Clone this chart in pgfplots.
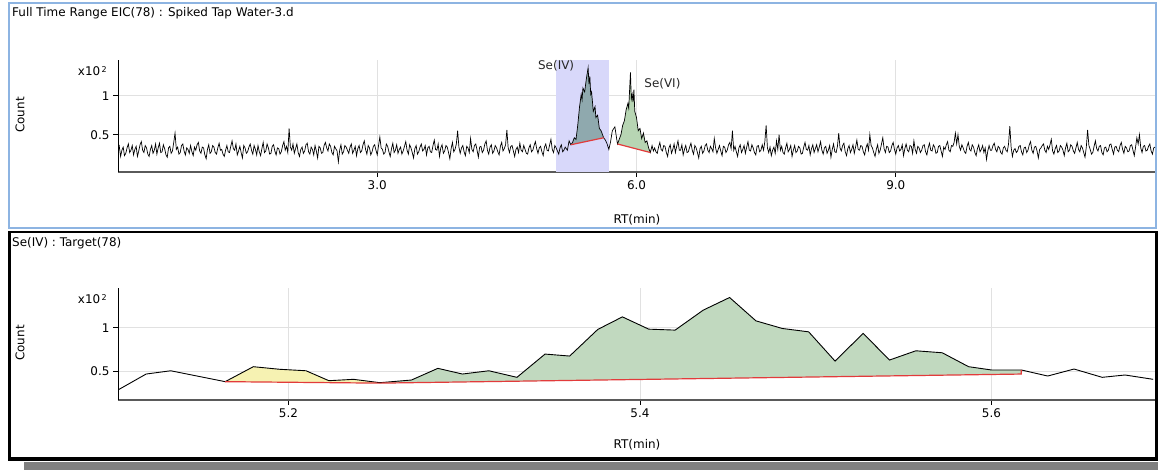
\documentclass[border=0pt]{standalone}
\usepackage{fontspec}
\setmainfont{DejaVu Sans}
\usepackage{pgfplots}
\pgfplotsset{compat=1.18}
\definecolor{panelblue}{HTML}{8DB4E2}
\definecolor{axgray}{HTML}{5A5A5A}
\definecolor{gridgray}{HTML}{E1E1E1}
\definecolor{hlblue}{HTML}{D8D8FA}
\definecolor{peakdark}{HTML}{8FA9AE}
\definecolor{peakgreen}{HTML}{B7D5B3}
\definecolor{fillgreen}{HTML}{C1D9BF}
\definecolor{fillyellow}{HTML}{F6F2B2}
\definecolor{basered}{HTML}{E23B3B}
\definecolor{shadowgray}{HTML}{808080}
\newcommand{\lblfont}{\fontsize{12}{14}\selectfont}
\pgfplotsset{
  chrom/.style={
    scale only axis, width=1037bp, height=112bp, anchor=south west,
    axis x line=bottom, axis y line=left,
    axis line style={-},
    x axis line style={line width=2bp, color=axgray},
    y axis line style={line width=1bp, color=black},
    tick align=outside, major tick length=5bp,
    tick style={black, line width=0.8bp},
    grid=major, major grid style={gridgray, line width=0.8bp},
    ticklabel style={font=\lblfont, text=black},
    /pgf/number format/assume math mode=true,
  }
}
\begin{document}
\begin{tikzpicture}
\begin{scope}[x=1bp,y=1bp]
\useasboundingbox (0,0) rectangle (1158,470);
% panel frames
\fill[shadowgray] (24,0) rectangle (1158,8);
\draw[panelblue, line width=1.5bp] (9,467) rectangle (1156,242);
\draw[black, line width=2.5bp] (9.5,238) rectangle (1156.5,11);
\fill[black] (8,9) rectangle (1158,13);
\node[anchor=west, font=\lblfont, inner sep=0] at (12,457) {Full Time Range EIC(78) : Spiked Tap Water-3.d};
\node[anchor=west, font=\lblfont, inner sep=0] at (12,227) {Se(IV) : Target(78)};
\node[anchor=east, font=\lblfont, inner sep=0] at (107,399) {x10\hspace{1.5bp}\raisebox{3bp}{\fontsize{8}{8}\selectfont 2}};
\node[rotate=90, font=\lblfont, inner sep=0] at (20,355) {Count};
\node[font=\lblfont, inner sep=0] at (637,250) {RT(min)};
\node[anchor=east, font=\lblfont, inner sep=0] at (107,171) {x10\hspace{1.5bp}\raisebox{3bp}{\fontsize{8}{8}\selectfont 2}};
\node[rotate=90, font=\lblfont, inner sep=0] at (20,127) {Count};
\node[font=\lblfont, inner sep=0] at (637,25) {RT(min)};
\end{scope}
% ---------------- top panel ----------------
\begin{axis}[chrom, at={(118bp,298bp)},
  xmin=0, xmax=12, ymin=0.02, ymax=1.46,
  xtick={3,6,9}, xticklabels={3.0,6.0,9.0},
  ytick={0.5,1}, yticklabels={0.5,1}]
\addplot[draw=none, fill=hlblue] coordinates {(5.07,0.02)(5.07,1.46)(5.68,1.46)(5.68,0.02)} -- cycle;
\addplot[draw=none, fill=peakdark] coordinates {
(5.24,0.37)(5.26,0.40)(5.28,0.46)(5.30,0.44)(5.32,0.62)(5.34,0.85)(5.36,1.02)(5.37,0.95)(5.38,1.10)(5.40,1.05)
(5.42,1.22)(5.44,1.36)(5.45,1.15)(5.46,1.25)(5.47,1.02)(5.48,1.05)(5.50,0.80)(5.52,0.86)(5.53,0.72)(5.55,0.75)
(5.57,0.58)(5.59,0.55)(5.62,0.46)} -- cycle;
\addplot[draw=none, fill=peakgreen] coordinates {
(5.78,0.38)(5.80,0.44)(5.82,0.50)(5.84,0.62)(5.86,0.68)(5.88,0.82)(5.90,0.90)(5.91,0.84)(5.93,1.30)(5.94,0.96)
(5.95,1.02)(5.96,0.92)(5.97,1.08)(5.98,0.80)(6.00,0.72)(6.02,0.55)(6.04,0.58)(6.06,0.45)(6.08,0.52)(6.10,0.40)
(6.12,0.42)(6.14,0.33)(6.16,0.27)} -- cycle;
\addplot[black, line width=0.7bp] coordinates {
(0.000,.28)(0.015,.35)(0.030,.22)(0.045,.30)(0.060,.34)(0.075,.23)(0.090,.26)(0.105,.33)(0.120,.38)(0.135,.27)
(0.150,.30)(0.165,.36)(0.180,.24)(0.195,.31)(0.210,.35)(0.225,.22)(0.240,.29)(0.255,.37)(0.270,.41)(0.285,.30)
(0.300,.27)(0.315,.36)(0.330,.33)(0.345,.25)(0.360,.22)(0.375,.31)(0.390,.36)(0.405,.26)(0.420,.30)(0.435,.38)
(0.450,.25)(0.465,.33)(0.480,.39)(0.495,.27)(0.510,.28)(0.525,.37)(0.540,.32)(0.555,.24)(0.570,.21)(0.585,.33)
(0.600,.35)(0.615,.26)(0.630,.29)(0.645,.40)(0.660,.52)(0.675,.31)(0.690,.34)(0.705,.25)(0.720,.27)(0.735,.36)
(0.750,.38)(0.765,.29)(0.780,.24)(0.795,.33)(0.810,.31)(0.825,.26)(0.840,.36)(0.855,.28)(0.870,.23)(0.885,.34)
(0.900,.30)(0.915,.37)(0.930,.40)(0.945,.29)(0.960,.26)(0.975,.34)(0.990,.33)(1.005,.24)(1.020,.19)(1.035,.31)
(1.050,.37)(1.065,.26)(1.080,.28)(1.095,.36)(1.110,.34)(1.125,.27)(1.140,.25)(1.155,.33)(1.170,.39)(1.185,.30)
(1.200,.31)(1.215,.25)(1.230,.22)(1.245,.30)(1.260,.36)(1.275,.28)(1.290,.27)(1.305,.35)(1.320,.42)(1.335,.32)
(1.350,.30)(1.365,.38)(1.380,.24)(1.395,.29)(1.410,.35)(1.425,.27)(1.440,.20)(1.455,.36)(1.470,.33)(1.485,.26)
(1.500,.28)(1.515,.34)(1.530,.38)(1.545,.30)(1.560,.25)(1.575,.36)(1.590,.31)(1.605,.24)(1.620,.36)(1.635,.28)
(1.650,.23)(1.665,.32)(1.680,.40)(1.695,.27)(1.710,.29)(1.725,.38)(1.740,.33)(1.755,.25)(1.770,.26)(1.785,.35)
(1.800,.37)(1.815,.29)(1.830,.24)(1.845,.33)(1.860,.32)(1.875,.25)(1.890,.28)(1.905,.36)(1.920,.41)(1.935,.30)
(1.950,.35)(1.965,.27)(1.980,.58)(1.995,.34)(2.010,.30)(2.025,.38)(2.040,.26)(2.055,.32)(2.070,.38)(2.085,.27)
(2.100,.22)(2.115,.31)(2.130,.34)(2.145,.26)(2.160,.29)(2.175,.37)(2.190,.39)(2.205,.28)(2.220,.25)(2.235,.34)
(2.250,.31)(2.265,.24)(2.280,.36)(2.295,.29)(2.310,.20)(2.325,.35)(2.340,.33)(2.355,.26)(2.370,.27)(2.385,.36)
(2.400,.40)(2.415,.33)(2.430,.29)(2.445,.38)(2.460,.35)(2.475,.27)(2.490,.24)(2.505,.35)(2.520,.32)(2.535,.29)
(2.550,.15)(2.565,.30)(2.580,.37)(2.595,.25)(2.610,.28)(2.625,.36)(2.640,.34)(2.655,.30)(2.670,.26)(2.685,.34)
(2.700,.38)(2.715,.26)(2.730,.30)(2.745,.35)(2.760,.23)(2.775,.32)(2.790,.36)(2.805,.27)(2.820,.29)(2.835,.37)
(2.850,.42)(2.865,.31)(2.880,.25)(2.895,.36)(2.910,.33)(2.925,.24)(2.940,.28)(2.955,.35)(2.970,.37)(2.985,.30)
(3.000,.24)(3.015,.36)(3.030,.47)(3.045,.33)(3.060,.31)(3.075,.25)(3.090,.27)(3.105,.38)(3.120,.35)(3.135,.28)
(3.150,.22)(3.165,.32)(3.180,.39)(3.195,.27)(3.210,.30)(3.225,.37)(3.240,.26)(3.255,.31)(3.270,.34)(3.285,.25)
(3.300,.29)(3.315,.35)(3.330,.41)(3.345,.30)(3.360,.25)(3.375,.37)(3.390,.33)(3.405,.27)(3.420,.20)(3.435,.32)
(3.450,.36)(3.465,.25)(3.480,.28)(3.495,.34)(3.510,.38)(3.525,.29)(3.540,.31)(3.555,.36)(3.570,.24)(3.585,.33)
(3.600,.35)(3.615,.28)(3.630,.27)(3.645,.36)(3.660,.43)(3.675,.31)(3.690,.30)(3.705,.38)(3.720,.22)(3.735,.33)
(3.750,.37)(3.765,.26)(3.780,.29)(3.795,.36)(3.810,.34)(3.825,.27)(3.840,.19)(3.855,.32)(3.870,.40)(3.885,.28)
(3.900,.31)(3.915,.38)(3.930,.55)(3.945,.34)(3.960,.26)(3.975,.33)(3.990,.36)(4.005,.28)(4.020,.23)(4.035,.35)
(4.050,.33)(4.065,.27)(4.080,.45)(4.095,.31)(4.110,.28)(4.125,.36)(4.140,.38)(4.155,.30)(4.170,.21)(4.185,.34)
(4.200,.35)(4.215,.27)(4.230,.30)(4.245,.38)(4.260,.42)(4.275,.30)(4.290,.25)(4.305,.34)(4.320,.37)(4.335,.26)
(4.350,.29)(4.365,.36)(4.380,.33)(4.395,.28)(4.410,.24)(4.425,.35)(4.440,.40)(4.455,.29)(4.470,.32)(4.485,.37)
(4.500,.56)(4.515,.33)(4.530,.27)(4.545,.35)(4.560,.36)(4.575,.29)(4.590,.22)(4.605,.31)(4.620,.34)(4.635,.27)
(4.650,.39)(4.665,.30)(4.680,.28)(4.695,.36)(4.710,.31)(4.725,.26)(4.740,.25)(4.755,.33)(4.770,.37)(4.785,.28)
(4.800,.30)(4.815,.36)(4.830,.41)(4.845,.32)(4.860,.26)(4.875,.33)(4.890,.35)(4.905,.28)(4.920,.23)(4.935,.34)
(4.950,.38)(4.965,.30)(4.980,.29)(4.995,.37)(5.010,.44)(5.025,.31)(5.040,.27)(5.055,.36)(5.070,.33)(5.085,.29)
(5.100,.25)(5.115,.33)(5.130,.37)(5.145,.28)(5.160,.30)(5.175,.34)
(5.20,0.30)(5.22,0.42)(5.24,0.37)(5.26,0.40)(5.28,0.46)(5.30,0.44)(5.32,0.62)(5.34,0.85)(5.36,1.02)(5.37,0.95)
(5.38,1.10)(5.40,1.05)(5.42,1.22)(5.44,1.36)(5.45,1.15)(5.46,1.25)(5.47,1.02)(5.48,1.05)(5.50,0.80)(5.52,0.86)
(5.53,0.72)(5.55,0.75)(5.57,0.58)(5.59,0.55)(5.62,0.46)(5.64,0.43)(5.66,0.38)(5.68,0.31)(5.70,0.41)(5.72,0.55)
(5.75,0.60)(5.77,0.45)
(5.78,0.38)(5.80,0.44)(5.82,0.50)(5.84,0.62)(5.86,0.68)(5.88,0.82)(5.90,0.90)(5.91,0.84)(5.93,1.30)(5.94,0.96)
(5.95,1.02)(5.96,0.92)(5.97,1.08)(5.98,0.80)(6.00,0.72)(6.02,0.55)(6.04,0.58)(6.06,0.45)(6.08,0.52)(6.10,0.40)
(6.12,0.42)(6.14,0.33)(6.16,0.27)(6.18,0.36)(6.195,0.29)
(6.210,.33)(6.225,.28)(6.240,.26)(6.255,.34)(6.270,.40)(6.285,.31)(6.300,.29)(6.315,.36)(6.330,.35)(6.345,.27)
(6.360,.22)(6.375,.33)(6.390,.37)(6.405,.26)(6.420,.31)(6.435,.38)(6.450,.27)(6.465,.35)(6.480,.42)(6.495,.30)
(6.510,.30)(6.525,.37)(6.540,.24)(6.555,.31)(6.570,.36)(6.585,.27)(6.600,.28)(6.615,.34)(6.630,.39)(6.645,.30)
(6.660,.25)(6.675,.36)(6.690,.33)(6.705,.27)(6.720,.20)(6.735,.32)(6.750,.35)(6.765,.26)(6.780,.29)(6.795,.36)
(6.810,.38)(6.825,.30)(6.840,.27)(6.855,.35)(6.870,.32)(6.885,.28)(6.900,.45)(6.915,.33)(6.930,.26)(6.945,.31)
(6.960,.36)(6.975,.29)(6.990,.23)(7.005,.35)(7.020,.34)(7.035,.27)(7.050,.30)(7.065,.37)(7.080,.40)(7.095,.32)
(7.110,.55)(7.125,.30)(7.140,.35)(7.155,.28)(7.170,.22)(7.185,.33)(7.200,.37)(7.215,.27)(7.230,.31)(7.245,.36)
(7.260,.26)(7.275,.34)(7.290,.41)(7.305,.30)(7.320,.29)(7.335,.37)(7.350,.33)(7.365,.27)(7.380,.24)(7.395,.35)
(7.410,.36)(7.425,.28)(7.440,.30)(7.455,.37)(7.470,.30)(7.485,.41)(7.500,.62)(7.515,.33)(7.530,.27)(7.545,.34)
(7.560,.23)(7.575,.30)(7.590,.34)(7.605,.26)(7.620,.42)(7.635,.31)(7.650,.50)(7.665,.30)(7.680,.35)(7.695,.27)
(7.710,.25)(7.725,.33)(7.740,.39)(7.755,.28)(7.770,.31)(7.785,.36)(7.800,.22)(7.815,.30)(7.830,.36)(7.845,.27)
(7.860,.29)(7.875,.35)(7.890,.33)(7.905,.25)(7.920,.26)(7.935,.34)(7.950,.40)(7.965,.31)(7.980,.30)(7.995,.36)
(8.010,.24)(8.025,.32)(8.040,.37)(8.055,.27)(8.070,.32)(8.085,.37)(8.100,.28)(8.115,.34)(8.130,.41)(8.145,.30)
(8.160,.25)(8.175,.33)(8.190,.35)(8.205,.26)(8.220,.30)(8.235,.36)(8.250,.21)(8.265,.31)(8.280,.38)(8.295,.28)
(8.310,.27)(8.325,.35)(8.340,.52)(8.355,.33)(8.370,.29)(8.385,.36)(8.400,.39)(8.415,.28)(8.430,.23)(8.445,.32)
(8.460,.36)(8.475,.27)(8.490,.31)(8.505,.37)(8.520,.26)(8.535,.34)(8.550,.43)(8.565,.31)(8.580,.30)(8.595,.36)
(8.610,.35)(8.625,.28)(8.640,.24)(8.655,.33)(8.670,.38)(8.685,.30)(8.700,.50)(8.715,.36)(8.730,.33)(8.745,.27)
(8.760,.22)(8.775,.31)(8.790,.37)(8.805,.26)(8.820,.30)(8.835,.38)(8.850,.46)(8.865,.32)(8.880,.27)(8.895,.35)
(8.910,.34)(8.925,.27)(8.940,.29)(8.955,.36)(8.970,.40)(8.985,.31)(9.000,.25)(9.015,.33)(9.030,.36)(9.045,.29)
(9.060,.31)(9.075,.37)(9.090,.23)(9.105,.32)(9.120,.38)(9.135,.30)(9.150,.28)(9.165,.36)(9.180,.35)(9.195,.26)
(9.210,.42)(9.225,.31)(9.240,.26)(9.255,.35)(9.270,.33)(9.285,.27)(9.300,.30)(9.315,.36)(9.330,.37)(9.345,.28)
(9.360,.24)(9.375,.33)(9.390,.39)(9.405,.30)(9.420,.29)(9.435,.37)(9.450,.34)(9.465,.26)(9.480,.27)(9.495,.35)
(9.510,.36)(9.525,.29)(9.540,.22)(9.555,.34)(9.570,.31)(9.585,.37)(9.600,.41)(9.615,.30)(9.630,.28)(9.645,.36)
(9.660,.35)(9.675,.40)(9.690,.52)(9.705,.38)(9.720,.50)(9.735,.35)(9.750,.30)(9.765,.37)(9.780,.33)(9.795,.28)
(9.810,.26)(9.825,.35)(9.840,.40)(9.855,.31)(9.870,.29)(9.885,.37)(9.900,.34)(9.915,.27)(9.930,.23)(9.945,.32)
(9.960,.37)(9.975,.28)(9.990,.31)(10.005,.36)(10.020,.27)(10.035,.33)(10.050,.18)(10.065,.29)(10.080,.36)(10.095,.30)
(10.110,.30)(10.125,.36)(10.140,.39)(10.155,.31)(10.170,.28)(10.185,.35)(10.200,.33)(10.215,.27)(10.230,.25)(10.245,.33)
(10.260,.35)(10.275,.30)(10.290,.28)(10.305,.38)(10.320,.61)(10.335,.34)(10.350,.22)(10.365,.30)(10.380,.32)(10.395,.27)
(10.410,.29)(10.425,.35)(10.440,.36)(10.455,.28)(10.470,.24)(10.485,.33)(10.500,.34)(10.515,.27)(10.530,.30)(10.545,.37)
(10.560,.41)(10.575,.30)(10.590,.26)(10.605,.34)(10.620,.35)(10.635,.29)(10.650,.20)(10.665,.31)(10.680,.33)(10.695,.36)
(10.710,.38)(10.725,.30)(10.740,.27)(10.755,.35)(10.770,.31)(10.785,.37)(10.800,.44)(10.815,.29)(10.830,.25)(10.845,.32)
(10.860,.36)(10.875,.27)(10.890,.29)(10.905,.36)(10.920,.34)(10.935,.30)(10.950,.23)(10.965,.33)(10.980,.39)(10.995,.28)
(11.010,.30)(11.025,.37)(11.040,.35)(11.055,.29)(11.070,.26)(11.085,.33)(11.100,.40)(11.115,.31)(11.130,.28)(11.145,.36)
(11.160,.33)(11.175,.27)(11.190,.21)(11.205,.34)(11.220,.56)(11.235,.36)(11.250,.31)(11.265,.25)(11.280,.27)(11.295,.35)
(11.310,.42)(11.325,.32)(11.340,.29)(11.355,.35)(11.370,.36)(11.385,.27)(11.400,.24)(11.415,.33)(11.430,.34)(11.445,.28)
(11.460,.30)(11.475,.37)(11.490,.38)(11.505,.31)(11.520,.25)(11.535,.34)(11.550,.35)(11.565,.30)(11.580,.28)(11.595,.36)
(11.610,.40)(11.625,.31)(11.640,.26)(11.655,.35)(11.670,.33)(11.685,.28)(11.700,.29)(11.715,.36)(11.730,.37)(11.745,.30)
(11.760,.23)(11.775,.34)(11.790,.46)(11.805,.38)(11.820,.50)(11.835,.33)(11.850,.27)(11.865,.35)(11.880,.36)(11.895,.29)
(11.910,.30)(11.925,.35)(11.940,.38)(11.955,.29)(11.970,.25)(11.985,.33)(12.000,.34)};
\addplot[basered, line width=1.2bp] coordinates {(5.24,0.37)(5.62,0.46)};
\addplot[basered, line width=1.2bp] coordinates {(5.78,0.38)(6.16,0.27)};
\node[font=\lblfont, text=black!85] at (axis cs:5.07,1.38) {Se(IV)};
\node[font=\lblfont, text=black!85] at (axis cs:6.30,1.15) {Se(VI)};
\end{axis}
% ---------------- bottom panel ----------------
\begin{axis}[chrom, at={(118bp,70bp)},
  xmin=5.103, xmax=5.693, ymin=0.165, ymax=1.46,
  xtick={5.2,5.4,5.6}, xticklabels={5.2,5.4,5.6},
  ytick={0.5,1}, yticklabels={0.5,1}]
\addplot[draw=none, fill=fillyellow] coordinates {
(5.164,0.377)(5.180,0.550)(5.195,0.520)(5.210,0.503)(5.223,0.388)(5.237,0.404)(5.252,0.365)(5.252,0.360)} -- cycle;
\addplot[draw=none, fill=fillgreen] coordinates {
(5.252,0.365)(5.270,0.396)(5.285,0.531)(5.299,0.465)(5.314,0.503)(5.330,0.427)(5.346,0.696)(5.360,0.673)
(5.376,0.981)(5.390,1.126)(5.405,0.984)(5.420,0.973)(5.436,1.204)(5.451,1.350)(5.466,1.080)(5.481,0.992)
(5.496,0.953)(5.511,0.615)(5.527,0.935)(5.542,0.627)(5.557,0.734)(5.572,0.711)(5.587,0.550)(5.600,0.512)
(5.617,0.512)(5.617,0.465)(5.252,0.360)} -- cycle;
\addplot[black, line width=0.9bp] coordinates {
(5.103,0.281)(5.119,0.465)(5.133,0.503)(5.164,0.377)(5.180,0.550)(5.195,0.520)(5.210,0.503)(5.223,0.388)
(5.237,0.404)(5.252,0.365)(5.270,0.396)(5.285,0.531)(5.299,0.465)(5.314,0.503)(5.330,0.427)(5.346,0.696)
(5.360,0.673)(5.376,0.981)(5.390,1.126)(5.405,0.984)(5.420,0.973)(5.436,1.204)(5.451,1.350)(5.466,1.080)
(5.481,0.992)(5.496,0.953)(5.511,0.615)(5.527,0.935)(5.542,0.627)(5.557,0.734)(5.572,0.711)(5.587,0.550)
(5.600,0.512)(5.617,0.512)(5.632,0.442)(5.647,0.523)(5.663,0.427)(5.676,0.454)(5.692,0.404)};
\addplot[basered, line width=1.2bp] coordinates {(5.164,0.377)(5.252,0.360)(5.617,0.465)(5.617,0.512)};
\end{axis}
\end{tikzpicture}
\end{document}
